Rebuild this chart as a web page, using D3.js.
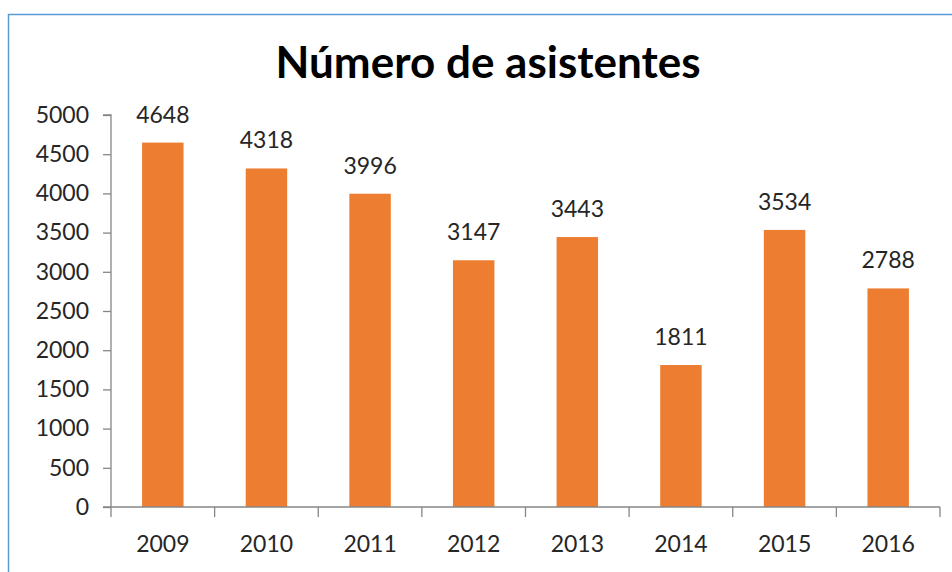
<!DOCTYPE html>
<html>
<head>
<meta charset="utf-8">
<script src="https://cdn.jsdelivr.net/npm/d3@7"></script>
<style>
    html, body { margin: 0; padding: 0; background: #fff; }
    svg { display: block; }
</style>
</head>
<body>
<div id="chart"></div>
<script>
const years = ['2009', '2010', '2011', '2012', '2013', '2014', '2015', '2016'];
const attendees = [4648, 4318, 3996, 3147, 3443, 1811, 3534, 2788];
const yTicks = [0, 500, 1000, 1500, 2000, 2500, 3000, 3500, 4000, 4500, 5000];

const width = 952, height = 572;
const margin = { top: 115, right: 12, bottom: 65, left: 111 };
const font = 'Lato, "Open Sans", sans-serif';

const svg = d3.select('#chart').append('svg')
    .attr('width', width)
    .attr('height', height);

// chart frame (only top/left edges visible in the crop)
svg.append('rect')
    .attr('x', 8.5).attr('y', 14.5)
    .attr('width', width + 20).attr('height', height + 20)
    .attr('fill', 'none')
    .attr('stroke', '#5b9bd5')
    .attr('stroke-width', 1.5);

svg.append('text')
    .attr('x', 488).attr('y', 78)
    .attr('text-anchor', 'middle')
    .style('font-family', font)
    .style('font-weight', 'bold')
    .style('font-size', '44px')
    .style('fill', '#000')
    .text('Número de asistentes');

const x = d3.scaleBand()
    .domain(years)
    .range([margin.left, width - margin.right])
    .paddingInner(0.6)
    .paddingOuter(0.3);

const y = d3.scaleLinear()
    .domain([0, 5000])
    .range([height - margin.bottom, margin.top]);

const g = svg.append('g');

// bars
g.selectAll('rect.bar')
    .data(attendees)
    .enter().append('rect')
    .attr('class', 'bar')
    .attr('x', (d, i) => x(years[i]))
    .attr('y', d => y(d))
    .attr('width', x.bandwidth())
    .attr('height', d => y(0) - y(d))
    .attr('fill', '#ed7d31');

// value labels
g.selectAll('text.val')
    .data(attendees)
    .enter().append('text')
    .attr('class', 'val')
    .attr('x', (d, i) => x(years[i]) + x.bandwidth() / 2)
    .attr('y', d => y(d) - 20)
    .attr('text-anchor', 'middle')
    .style('font-family', font)
    .style('font-size', '23px')
    .style('fill', '#262626')
    .text(d => d);

// y axis
const yAxis = d3.axisLeft(y).tickValues(yTicks).tickFormat(d3.format('d')).tickSize(8).tickPadding(14);
const yG = svg.append('g')
    .attr('transform', `translate(${margin.left},0)`)
    .call(yAxis);

// x axis with ticks at category boundaries
const xG = svg.append('g')
    .attr('transform', `translate(0,${y(0)})`);
xG.append('line')
    .attr('x1', margin.left - 8).attr('x2', width - margin.right)
    .attr('y1', 0).attr('y2', 0);
const step = x.step();
const bounds = d3.range(years.length + 1).map(i => margin.left + i * step);
xG.selectAll('line.tick')
    .data(bounds)
    .enter().append('line')
    .attr('class', 'tick')
    .attr('x1', d => d).attr('x2', d => d)
    .attr('y1', 0).attr('y2', 10);
xG.selectAll('text')
    .data(years)
    .enter().append('text')
    .attr('x', d => x(d) + x.bandwidth() / 2)
    .attr('y', 45)
    .attr('text-anchor', 'middle')
    .text(d => d);

[yG, xG].forEach(sel => {
    sel.selectAll('line, path').attr('stroke', '#868686').attr('stroke-width', 1.3);
    sel.selectAll('text')
        .style('font-family', font)
        .style('font-size', '23px')
        .style('fill', '#262626');
});
yG.select('.domain').attr('d', `M-8,${y(5000)}H0V${y(0)}`);
</script>
</body>
</html>
